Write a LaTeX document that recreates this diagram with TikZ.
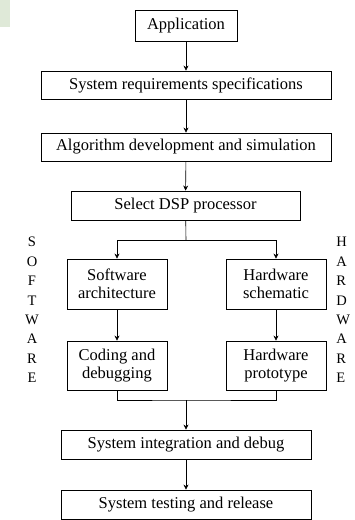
\documentclass[tikz,border=0pt]{standalone}
\usepackage{fontspec}
\setmainfont{Liberation Serif}
\usepackage{tikz}
\usetikzlibrary{arrows.meta, positioning}
\tikzset{>={Stealth[length=5pt, width=5pt]}}
\definecolor{mygreen}{HTML}{DFE9D8}
\tikzset{box/.style={draw, line width=0.9pt, inner sep=1pt, align=center, font=\fontsize{16.5}{18}\selectfont},
	side/.style={align=center, inner sep=0pt, font=\fontsize{14.5}{19.4}\selectfont}}

\begin{document}
\begin{tikzpicture}[x=1pt, y=-1pt, line width=0.6pt]
	\useasboundingbox (0,0) rectangle (354,520);
	\fill [mygreen] (0,0) rectangle (10,27);
	\node [box, minimum width=102pt, minimum height=31pt] (app) at (186,25.5) {Application};
	\node [box, minimum width=290pt, minimum height=28pt] (req) at (186,85) {System requirements specifications};
	\node [box, minimum width=290pt, minimum height=28pt] (alg) at (186,147) {Algorithm development and simulation};
	\node [box, minimum width=229pt, minimum height=29pt] (dsp) at (185.5,205.5) {Select DSP processor};
	\node [box, minimum width=100pt, minimum height=50pt] (swarch) at (117,284) {Software\\architecture};
	\node [box, minimum width=100pt, minimum height=50pt] (hwsch) at (276,284) {Hardware\\schematic};
	\node [box, minimum width=100pt, minimum height=49pt] (coding) at (117,365.5) {Coding and\\debugging};
	\node [box, minimum width=100pt, minimum height=49pt] (hwproto) at (276,365.5) {Hardware\\prototype};
	\node [box, minimum width=250pt, minimum height=29pt] (integ) at (186,444.5) {System integration and debug};
	\node [box, minimum width=250pt, minimum height=29pt] (test) at (186,504.5) {System testing and release};
	\node [side] (sw) at (32,310) {S\\O\\F\\T\\W\\A\\R\\E};
	\node [side, align=left, anchor=west] (hw) at (336,310) {H\\A\\R\\D\\W\\A\\R\\E};
	\coordinate (split) at (186,240);
	\coordinate (merge) at (186,400);
	\draw [->] (app) -- (req);
	\draw [->] (req) -- (alg);
	\draw [->] (alg) -- (dsp);
	\draw (dsp) -- (split);
	\draw [->] (split) -| (swarch);
	\draw [->] (split) -| (hwsch);
	\draw [->] (swarch) -- (coding);
	\draw [->] (hwsch) -- (hwproto);
	\draw (coding) |- (merge) -| (hwproto);
	\draw [->] (merge) -- (integ);
	\draw [->] (integ) -- (test);
\end{tikzpicture}
\end{document}
